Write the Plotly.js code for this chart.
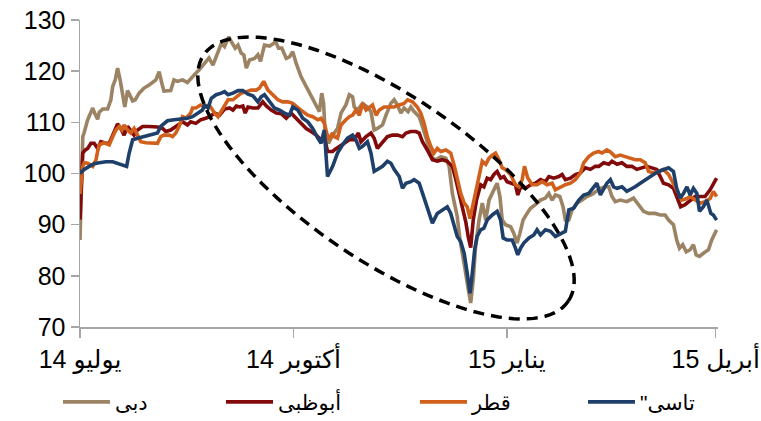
<!DOCTYPE html>
<html>
<head>
<meta charset="utf-8">
<script src="https://cdn.plot.ly/plotly-3.0.1.min.js"></script>
<style>html,body{margin:0;padding:0;background:#fff;}#chart{width:761px;height:421px;}</style>
</head>
<body>
<div id="chart"></div>
<script>
// Series data: [days since 1 July 2014, index value]
const dubai = [[0,87],[1.2,107.2],[1.8,108],[3.3,110.5],[5.5,112.8],[6.1,112],[7.6,110.6],[8.3,112],[9.8,112.6],[11.9,112.6],[13.3,114.4],[14.1,117],[15.2,118.3],[16.2,120.6],[17.3,118.3],[18.4,115],[19.3,113],[20.5,116.2],[21.5,115.4],[22.7,114.2],[23.8,114.4],[25.5,115.7],[27.6,116.7],[29.8,117.3],[32.7,118.3],[34.1,119.9],[35.3,117.6],[36.2,116.1],[39.1,116.2],[40.5,118.3],[42.0,118],[44.2,118.3],[46.3,117.8],[47.7,118.6],[49.9,119.6],[51.3,120.2],[53.4,121.5],[55.6,122.6],[57.3,121.2],[59.5,123.5],[60.9,125.4],[62.3,124.8],[64.1,126.7],[65.2,125.8],[66.9,124.5],[68.1,125.1],[69.5,123.5],[70.6,123.2],[71.7,120.6],[73.1,122.2],[75.2,122.5],[76.7,123.2],[77.8,121.9],[79.5,125.1],[81.7,124.9],[83.1,125.3],[84.3,125.8],[85.6,124.5],[87.0,124.5],[88.9,122.5],[90.3,122.8],[91.7,123.8],[93.2,121.5],[95.3,118.9],[97.5,117],[99.6,115],[101.8,113],[103.2,112.1],[104.2,115.7],[105.0,113.7],[105.6,108.5],[107.1,105.9],[108.9,107.5],[111.0,108.8],[112.5,111.8],[114.6,113.4],[116.1,115.4],[117.5,115],[118.2,113],[119.6,112.4],[121.8,113.7],[123.9,113],[125.4,112.1],[126.8,108.5],[128.2,108.8],[130.4,109.5],[131.9,111.4],[134.0,113.7],[135.4,114.4],[136.8,113.4],[138.3,111.8],[139.7,112.8],[141.4,112.1],[142.6,113],[144.0,112.1],[146.2,111.1],[147.6,109.2],[149.1,107.2],[150.5,105.3],[151.9,103],[153.4,102.7],[155.5,103.3],[157.7,103],[159.1,101.4],[160.5,96.1],[161.5,93.5],[162.6,91.6],[163.8,87],[164.8,83.8],[165.8,81.8],[166.9,78.6],[168.4,74.7],[169.5,79.2],[170.5,85.7],[172.0,90.9],[173.4,94.2],[174.9,90.9],[176.3,94.8],[178.4,96.8],[179.8,98.1],[181.0,95.5],[182.0,90.9],[183.4,90],[185.6,89.6],[187.0,88.3],[188.4,86.4],[189.6,88.3],[191.0,90.9],[192.7,92.2],[194.2,93.2],[196.3,93.9],[198.5,94.8],[200.6,95.2],[202.1,96.1],[203.5,94.8],[204.9,95.8],[206.8,95.5],[208.2,93.5],[209.2,90.9],[210.7,90.9],[212.1,92.9],[214.2,94.2],[216.4,94.8],[218.5,95.5],[220.7,95.9],[222.8,96.5],[224.3,97.1],[226.4,97.4],[227.9,97.4],[229.3,95.5],[230.7,94.5],[232.9,94.8],[235.7,94.5],[238.6,95.2],[240.8,93.9],[242.9,92.6],[245.1,92.2],[247.9,92.2],[250.1,91.9],[252.2,91.9],[253.7,90.9],[255.8,90],[257.2,87],[258.4,85.4],[259.8,86.1],[261.3,84.7],[263.0,85.1],[264.4,86.1],[265.6,84.1],[267.0,83.8],[268.7,84.4],[270.9,85.1],[272.3,87],[274.4,89]];

const abuDhabi = [[0,91],[1.2,104],[2.3,104.6],[3.3,104.9],[4.7,105.9],[6.1,105.9],[7.6,104.9],[9.0,106.2],[11.2,105.9],[12.6,105.9],[14.1,107.5],[16.2,109.7],[17.6,108.8],[19.0,107.5],[20.5,109.2],[21.9,108.2],[23.3,107.5],[24.8,108.5],[27.0,109.2],[29.8,109.2],[33.4,109.1],[35.6,108.8],[37.0,108.2],[39.1,108.5],[41.3,109.2],[42.7,109.8],[44.2,110.1],[46.3,109.5],[47.7,110.1],[49.9,109.8],[52.0,110.5],[54.2,110.8],[55.9,111.1],[58.0,111.8],[60.2,111.4],[62.3,112.6],[64.5,112.8],[65.9,112.4],[67.4,113.2],[68.8,113],[70.2,113.2],[71.2,111.8],[72.4,113],[74.5,112.8],[76.7,112.8],[78.8,114],[80.3,113.2],[82.4,112.4],[84.6,111.8],[86.7,111.7],[88.9,110.8],[91.0,111.8],[93.2,110.8],[95.3,109.8],[97.5,108.8],[99.6,108.2],[101.8,107.5],[103.9,106.6],[105.3,107.2],[106.7,104.3],[108.9,104.3],[109.6,104.6],[111.8,105.3],[113.9,105.9],[116.1,106.6],[118.2,106.6],[120.0,107.9],[121.1,106.2],[123.3,107.2],[125.4,107.9],[126.8,106.9],[128.2,104.9],[130.4,106.2],[132.5,107.2],[134.7,107.5],[136.8,107.5],[139.0,107.2],[140.5,107.9],[142.6,108.2],[144.8,108.2],[146.2,107.9],[147.6,106.2],[149.7,104.6],[151.9,102.7],[154.0,102.4],[156.2,102.7],[158.3,102.4],[160.5,101.4],[162.0,98.8],[163.4,96.1],[164.8,93.5],[166.3,90.5],[167.4,87.5],[168.4,85.5],[169.5,90.9],[170.9,94.8],[172.7,97.8],[174.1,97.4],[175.5,99.1],[177.0,98.8],[178.4,99.8],[179.8,100.4],[181.3,99.1],[182.7,99.4],[184.1,98.4],[186.3,98.1],[187.7,97.8],[188.7,95.8],[189.9,97.4],[192.0,97.1],[194.2,97.8],[196.3,98.1],[198.5,98.8],[200.6,98.4],[202.1,99.4],[204.2,99.1],[206.4,99.4],[207.8,99.8],[209.2,98.8],[211.4,99.1],[213.5,99.8],[215.7,100.1],[217.8,101.1],[220.0,100.8],[222.1,101.4],[223.6,101.4],[225.7,102.1],[227.9,101.8],[229.3,102.4],[231.5,101.8],[233.6,102.1],[235.7,101.4],[237.9,101.4],[240.0,100.8],[242.2,101.1],[244.3,101.4],[246.5,101.1],[248.6,100.8],[250.1,99.4],[251.5,98.1],[253.7,97.8],[255.8,97.1],[257.2,95.5],[258.9,93.5],[260.8,93.9],[263.0,94.8],[265.1,95.5],[267.3,95.5],[269.4,95.5],[271.6,96.8],[273.0,98.1],[274.4,99.1]];

const qatar = [[0,96],[1.2,101.4],[1.8,102.1],[3.3,102],[5.5,101.4],[6.9,102.7],[7.6,104.3],[8.3,105.6],[10.4,106],[12.6,105.6],[14.1,107.2],[15.5,108.5],[16.9,109.2],[18.1,108.5],[19.0,109.5],[20.5,108.5],[21.9,107.9],[23.3,108.8],[24.8,107.5],[26.2,106.2],[28.4,106],[31.3,106],[33.4,105.9],[34.8,107.2],[36.2,107.5],[38.4,107.5],[39.9,107.2],[41.3,107.9],[42.7,109.2],[44.2,111.1],[45.6,110.8],[47.7,111.8],[48.5,112.8],[49.9,112.8],[52.0,113.4],[54.2,113],[55.6,113.4],[56.6,112.8],[58.0,111.8],[59.5,111.1],[61.6,112.8],[63.8,114.4],[65.9,114.4],[67.4,115],[69.5,115.7],[71.7,116],[73.8,116.3],[76.0,116.3],[77.4,116.7],[79.2,118],[81.0,116.3],[83.1,115.4],[85.3,114.4],[87.4,114],[89.6,114],[91.7,113.7],[93.9,112.8],[96.0,112.1],[98.2,111.4],[100.3,111.1],[102.5,110.5],[103.9,110.8],[105.3,109.8],[107.1,106.6],[108.9,107.9],[109.6,107.2],[111.0,106.9],[112.5,109.5],[114.6,110.5],[116.1,111.1],[117.5,111.4],[118.9,112.4],[120.4,111.4],[121.8,113.7],[123.3,112.4],[124.7,112.8],[126.1,113.4],[127.6,111.4],[129.0,112.4],[131.1,113],[133.3,113],[135.4,113],[137.6,113.4],[139.7,113.7],[141.2,114.4],[143.3,114],[145.4,113],[146.9,111.8],[148.3,109.8],[149.7,107.2],[151.2,105.3],[152.6,104],[154.0,104.9],[155.5,104.3],[157.7,104.6],[159.8,104],[161.4,101.4],[162.6,98.8],[164.1,96.1],[165.6,94.2],[166.9,93.5],[168.1,91.2],[169.5,94.2],[171.0,97.4],[172.4,100.8],[173.4,102.4],[174.9,101.8],[176.3,103],[177.7,103.6],[179.1,104],[180.6,102.7],[182.0,101.1],[183.4,100.8],[185.6,99.8],[187.7,97.8],[189.2,97.4],[190.6,98.8],[191.6,101.4],[193.0,99.1],[194.9,97.8],[197.0,97.8],[199.2,98.4],[201.3,97.8],[203.5,98.1],[204.9,96.8],[207.1,97.4],[209.2,97.8],[211.4,98.1],[213.5,98.8],[215.7,100.1],[217.1,102.1],[219.3,103.3],[221.4,104],[223.6,104.3],[225.0,104],[227.1,104.6],[228.6,104.2],[230.7,103.3],[232.9,103.6],[235.0,103.3],[237.2,103],[239.3,102.7],[241.5,102.7],[243.6,102.1],[245.1,100.4],[247.2,100.1],[249.4,100.4],[251.5,100.8],[253.7,99.8],[255.8,98.1],[258.0,96.1],[259.4,94.8],[261.6,95.1],[263.0,95.5],[265.1,94.8],[267.3,94.2],[269.4,94.5],[271.6,95.1],[273.0,96.5],[274.4,95.5]];

const tasi = [[0,100],[1.8,100.8],[4.0,101.4],[6.1,101.9],[8.3,102.1],[11.2,102.3],[14.1,102.3],[16.2,102],[18.4,101.7],[20.1,101.4],[21.2,104],[22.7,106.6],[24.8,106.9],[27.6,107.2],[30.5,107.5],[33.4,107.9],[34.8,109.2],[36.2,109.8],[37.7,110.3],[40.5,110.5],[43.4,110.6],[46.3,110.8],[48.5,111.1],[50.6,111.8],[52.8,112.4],[53.7,113.4],[55.2,112.8],[56.6,114.7],[58.7,115.4],[60.9,115.7],[62.3,116],[63.8,115.4],[65.9,115.7],[68.1,116.2],[70.2,116.2],[72.4,115.5],[74.5,115.2],[76.7,114],[78.1,115],[79.5,115.4],[81.7,114],[83.8,112.8],[86.0,112.4],[88.1,111.8],[90.3,111.4],[91.7,113],[93.9,112.4],[96.0,110.8],[98.2,110.1],[100.3,108.8],[102.5,106.9],[103.9,105.9],[105.3,108.5],[106.7,99.4],[108.9,101.4],[111.0,104],[113.2,105.6],[115.3,106.9],[117.5,107.5],[118.9,106.6],[120.4,104.9],[121.8,105.3],[123.9,106.2],[125.4,104],[126.8,100.4],[128.2,100.8],[130.4,101.4],[132.5,102.4],[134.0,102],[135.4,100.8],[137.6,99.4],[139.0,97.1],[140.5,98.1],[142.6,98.4],[144.0,98.8],[146.2,98.1],[147.6,96.1],[149.7,93.5],[151.9,90.3],[154.0,92.2],[156.2,92.9],[158.3,93.5],[159.8,92.2],[161.2,89.6],[162.6,87.7],[164.1,86.7],[165.6,84.4],[166.9,80.5],[168.1,76.6],[169.1,80.5],[170.1,85.1],[171.2,87.7],[172.7,89],[174.1,89.3],[175.5,90.9],[177.7,91.9],[179.8,92.6],[181.3,90.9],[182.4,87.4],[184.1,87],[186.3,87],[187.7,85.4],[188.7,84.1],[189.9,85.4],[191.3,86.4],[193.5,87.4],[195.6,88],[197.0,89],[198.5,88],[200.6,89],[202.8,88.7],[204.9,87.7],[207.1,88.3],[209.2,88.7],[210.7,92.9],[212.8,93.2],[215.0,94.8],[217.1,95.8],[219.3,96.1],[221.4,97.4],[222.8,98.1],[224.3,95.8],[225.7,97.1],[227.1,98.1],[228.6,98.8],[230.0,97.4],[231.5,97.1],[233.6,97.4],[235.7,96.5],[237.2,96.8],[239.3,97.4],[241.5,98.1],[243.6,98.8],[245.1,99.1],[247.2,99.8],[249.4,100.4],[251.5,100.8],[253.7,101.1],[255.8,100.4],[257.2,97.1],[258.7,95.2],[260.1,96.1],[261.6,97.4],[263.0,95.8],[264.4,97.1],[265.9,96.1],[267.0,92.6],[268.7,93.5],[270.2,94.8],[271.9,92.2],[273.0,91.9],[274.4,90.9]];

// Left-to-right mark (U+200E) keeps the visual order of mixed Arabic/digit text fixed
const LRM = '\u200E';
const seriesNames = ['دبى', 'أبوظبى', 'قطر', LRM + '"تاسى'];
const seriesColors = ['#9b8363', '#820a0a', '#d0601c', '#1f3f6b'];
const tickDates = ['2014-07-01', '2014-10-01', '2015-01-01', '2015-04-01'];
const tickLabels = [LRM + '14 يوليو', LRM + '14 أكتوبر', LRM + '15 يناير', LRM + '15 أبريل'];

const START = Date.UTC(2014, 6, 1);
const DAY = 86400000;
const toX = d => START + d * DAY;

const W = 761, H = 421, ML = 80, MR = 43, MT = 20, MB = 94;
const PW = W - ML - MR, PH = H - MT - MB;

const legendIds = ['legend', 'legend2', 'legend3', 'legend4'];
const legendLeftPx = [65, 228, 422, 590];

const allSeries = [dubai, abuDhabi, qatar, tasi];
const traces = allSeries.map((s, i) => ({
  type: 'scatter',
  mode: 'lines',
  name: seriesNames[i],
  legend: legendIds[i],
  x: s.map(p => toX(p[0])),
  y: s.map(p => p[1]),
  line: {color: seriesColors[i], width: 3.6},
  hoverinfo: 'skip'
}));

// dashed ellipse highlight (decoration), in paper coordinates
function ellipsePath() {
  const cx = 386, cy = 178, a = 220, b = 83, th = 34 * Math.PI / 180;
  let p = '';
  for (let k = 0; k <= 120; k++) {
    const t = 2 * Math.PI * k / 120;
    const px = cx + a * Math.cos(t) * Math.cos(th) - b * Math.sin(t) * Math.sin(th);
    const py = cy + a * Math.cos(t) * Math.sin(th) + b * Math.sin(t) * Math.cos(th);
    const xp = (px - ML) / PW, yp = (H - MB - py) / PH;
    p += (k === 0 ? 'M' : 'L') + xp.toFixed(5) + ',' + yp.toFixed(5);
  }
  return p + 'Z';
}

const axisGray = '#a6a6a6';
const layout = {
  width: W, height: H,
  margin: {l: ML, r: MR, t: MT, b: MB, autoexpand: false},
  paper_bgcolor: '#ffffff', plot_bgcolor: '#ffffff',
  font: {family: 'Liberation Sans, Arial, DejaVu Sans, sans-serif', color: '#000000', size: 24},
  showlegend: true,
  xaxis: {
    type: 'date',
    range: [toX(0), toX(275)],
    tickvals: tickDates, ticktext: tickLabels,
    ticks: 'outside', ticklen: 9, tickwidth: 1.5, tickcolor: axisGray,
    showline: true, linecolor: axisGray, linewidth: 1.5,
    showgrid: false, zeroline: false, automargin: false,
    tickfont: {size: 25}, fixedrange: true
  },
  yaxis: {
    range: [70, 130], tick0: 70, dtick: 10,
    ticks: 'outside', ticklen: 8, tickwidth: 1.5, tickcolor: axisGray,
    showline: true, linecolor: axisGray, linewidth: 1.5,
    showgrid: false, zeroline: false, automargin: false,
    tickfont: {size: 25}, fixedrange: true
  },
  shapes: [{
    type: 'path', xref: 'paper', yref: 'paper', path: ellipsePath(),
    line: {color: '#000000', width: 3.5, dash: '11px,7px'}, fillcolor: 'rgba(0,0,0,0)'
  }]
};
legendIds.forEach((id, i) => {
  layout[id] = {
    orientation: 'h', xanchor: 'left', yanchor: 'middle',
    x: (legendLeftPx[i] - 7 - ML) / PW, y: -0.245,
    font: {size: 21, color: '#000000'}, itemwidth: 47,
    bgcolor: 'rgba(0,0,0,0)'
  };
});

Plotly.newPlot('chart', traces, layout, {staticPlot: true, displayModeBar: false});
</script>
</body>
</html>
